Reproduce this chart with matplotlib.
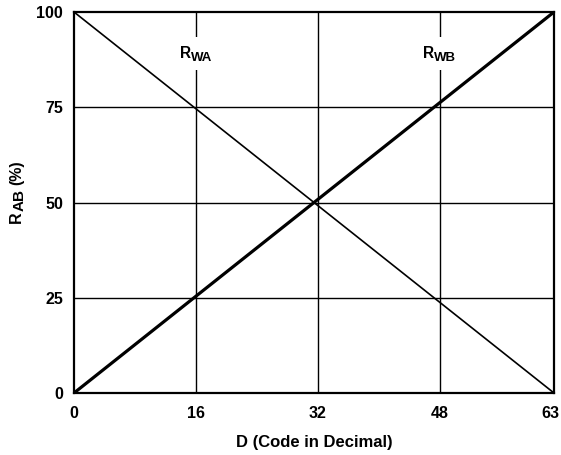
import matplotlib
matplotlib.use("Agg")
import matplotlib.pyplot as plt
from matplotlib.transforms import IdentityTransform, ScaledTranslation
import numpy as np

plt.rcParams['font.family'] = ['Liberation Sans', 'DejaVu Sans']
plt.rcParams['font.weight'] = 'bold'

codes = [0, 63]
r_wa = [100, 0]
r_wb = [0, 100]
x_ticks = [0, 16, 32, 48, 63]
y_ticks = [0, 25, 50, 75, 100]
grid_x = [16, 32, 48]
grid_y = [25, 50, 75]
curve_labels = [("R", "WA", 16, 88), ("R", "WB", 48, 88)]

W, H = 561, 455
fig = plt.figure(figsize=(W / 100, H / 100), dpi=100)
ax = fig.add_axes([74 / W, 1 - 393 / H, 480 / W, 381 / H])

ax.set_xlim(0, 63)
ax.set_ylim(0, 100)
for xv in grid_x:
    ax.axvline(xv, color='black', lw=1.0, zorder=1)
for yv in grid_y:
    ax.axhline(yv, color='black', lw=1.0, zorder=1)

ax.plot(codes, r_wa, color='black', lw=1.2, zorder=3)
ax.plot(codes, r_wb, color='black', lw=2.3, zorder=3)

FS = 11.5
SFS = 9.5

ax.set_xticks(x_ticks)
ax.set_yticks(y_ticks)
ax.tick_params(axis='x', length=0, labelsize=FS, pad=9.5)
ax.tick_params(axis='y', length=0, labelsize=FS, pad=8)
for lab in ax.get_xticklabels() + ax.get_yticklabels():
    lab.set_fontweight('bold')
# nudge the last x tick label so it stays inside the figure
last = ax.get_xticklabels()[-1]
last.set_transform(last.get_transform() + ScaledTranslation(-4 / 100, 0, fig.dpi_scale_trans))
for s in ax.spines.values():
    s.set_linewidth(1.6)
    s.set_zorder(5)

ax.set_xlabel('D (Code in Decimal)', fontsize=12, fontweight='bold', labelpad=10)

# curve labels: main letter + larger-than-mathtext subscript
fig.canvas.draw()
renderer = fig.canvas.get_renderer()
for main, sub, xv, yv in curve_labels:
    tm = ax.annotate(main, xy=(xv, yv), xycoords='data', textcoords='offset pixels',
                     xytext=(0, 0), ha='left', va='baseline', fontsize=11.2,
                     fontweight='bold', zorder=4,
                     bbox=dict(facecolor='white', edgecolor='none', pad=6.5))
    ts = ax.annotate(sub, xy=(xv, yv), xycoords='data', textcoords='offset pixels',
                     xytext=(0, -3), ha='left', va='baseline', fontsize=SFS,
                     fontweight='bold', zorder=4)
    fig.canvas.draw()
    wm = tm.get_window_extent(renderer).width
    ws = ts.get_window_extent(renderer).width
    total = wm + ws
    tm.set_position((-total / 2, 0))
    ts.set_position((-total / 2 + wm, -3))

# y label: R_AB (%) rotated, with larger subscript
base_x = 21
y0 = H - 223
t1 = fig.text(base_x, y0, "R", rotation=90, rotation_mode='anchor', ha='left',
              va='baseline', fontsize=FS, fontweight='bold', transform=IdentityTransform())
fig.canvas.draw()
w1 = t1.get_window_extent(renderer).height
t2 = fig.text(base_x + 3, y0 + w1, "AB", rotation=90, rotation_mode='anchor', ha='left',
              va='baseline', fontsize=11, fontweight='bold', transform=IdentityTransform())
fig.canvas.draw()
w2 = t2.get_window_extent(renderer).height
space = 0.278 * FS * 100 / 72
fig.text(base_x, y0 + w1 + w2 + space, "(%)", rotation=90, rotation_mode='anchor',
         ha='left', va='baseline', fontsize=FS, fontweight='bold',
         transform=IdentityTransform())

fig.savefig('out.png', dpi=100)
